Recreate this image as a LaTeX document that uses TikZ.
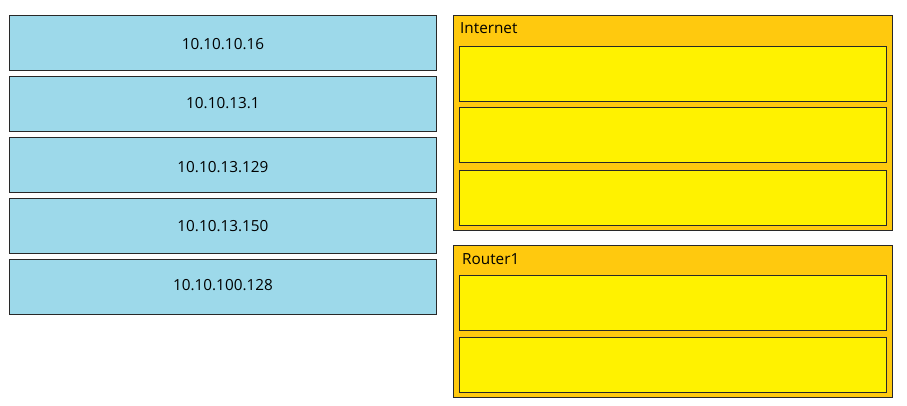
\documentclass[tikz,border=0pt]{standalone}
\usepackage{fontspec}
\setmainfont{Open Sans}
\definecolor{cellblue}{RGB}{157,217,234}
\definecolor{groupor}{RGB}{255,201,14}
\definecolor{slotyel}{RGB}{255,242,0}
\definecolor{edgegray}{RGB}{40,40,40}
\begin{document}
\begin{tikzpicture}[x=1pt,y=-1pt,
  item/.style={draw=edgegray,line width=0.9pt,fill=cellblue,minimum width=427pt,minimum height=55pt,anchor=north west,inner sep=0pt,text height=11pt,text depth=3pt,font=\fontsize{15.3}{17}\selectfont,text=black},
  group/.style={draw=edgegray,line width=0.9pt,fill=groupor,anchor=north west,inner sep=0pt,minimum width=439pt},
  slot/.style={draw=edgegray,line width=0.9pt,fill=slotyel,minimum width=427pt,minimum height=55pt,anchor=north west,inner sep=0pt},
  grouplabel/.style={anchor=west,inner sep=0pt,font=\fontsize{15.3}{17}\selectfont,text=black}]
\useasboundingbox (0,0) rectangle (907,405);
% left items
\node[item] (a1) at (9,15) {\raisebox{-2.5pt}{10.10.10.16}};
\node[item] (a2) at (9,76) {\raisebox{-0.5pt}{10.10.13.1}};
\node[item] (a3) at (9,137) {\raisebox{-3.5pt}{10.10.13.129}};
\node[item] (a4) at (9,198) {\raisebox{-1.5pt}{10.10.13.150}};
\node[item] (a5) at (9,259) {\raisebox{0.5pt}{10.10.100.128}};
% Internet group
\node[group,minimum height=215pt] (g1) at (453,15) {};
\node[grouplabel] (g1l) at (460,28) {Internet};
\node[slot] (s11) at (459,46) {};
\node[slot] (s12) at (459,107) {};
\node[slot] (s13) at (459,170) {};
% Router1 group
\node[group,minimum height=152pt] (g2) at (453,245) {};
\node[grouplabel] (g2l) at (462,259) {Router1};
\node[slot] (s21) at (459,275) {};
\node[slot] (s22) at (459,337) {};
\end{tikzpicture}
\end{document}
